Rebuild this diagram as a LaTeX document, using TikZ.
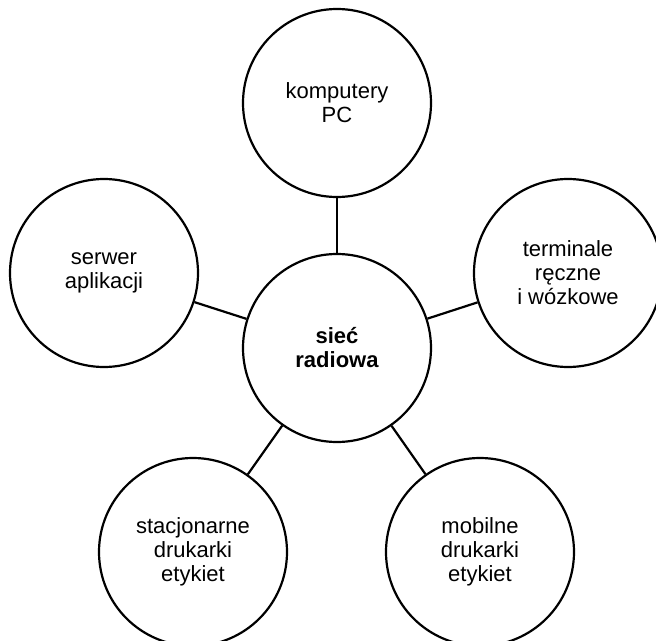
\documentclass[tikz,border=0pt]{standalone}
\usepackage{fontspec}
\setmainfont{Liberation Sans}

\begin{document}
\begin{tikzpicture}[x=1pt, y=-1pt, line width=2.2pt,
  kolo/.style={draw, circle, minimum size=188pt, inner sep=0pt, align=center,
               font=\fontsize{22}{24}\selectfont},
  srodek/.style={kolo, font=\fontsize{22}{24}\selectfont\bfseries}]

  %% ════ koła ════
  \node[srodek] (siec) at (337.0,348.0) {sieć\\radiowa};
  \node[kolo] (pc) at (337.0,103.0) {komputery\\PC};
  \node[kolo] (serwer) at (104.0,273.0) {serwer\\aplikacji};
  \node[kolo] (term) at (568.0,273.0) {terminale\\ręczne\\i wózkowe};
  \node[kolo] (stac) at (193.0,552.0) {stacjonarne\\drukarki\\etykiet};
  \node[kolo] (mob) at (480.0,552.0) {mobilne\\drukarki\\etykiet};

  %% ════ połączenia ════
  \draw (siec) -- (pc);
  \draw (siec) -- (serwer);
  \draw (siec) -- (term);
  \draw (siec) -- (stac);
  \draw (siec) -- (mob);

  % kadr jak w oryginale (koła z prawej i u dołu są ucięte)
  \pgfresetboundingbox
  \path[use as bounding box] (0,0) rectangle (656,640);
\end{tikzpicture}
\end{document}
